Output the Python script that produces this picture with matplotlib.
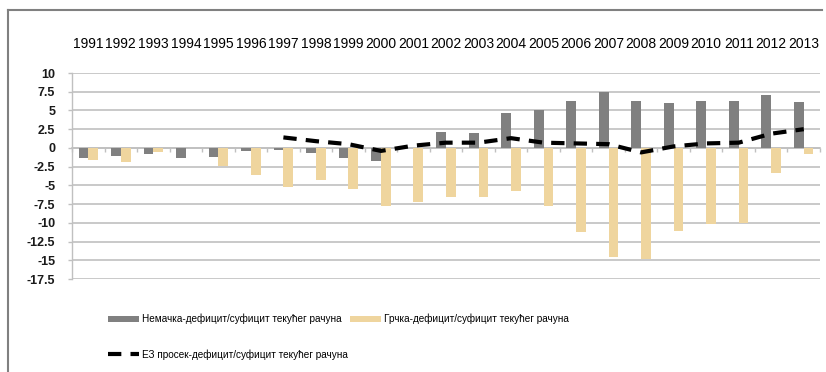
import numpy as np
import matplotlib.pyplot as plt
from matplotlib.lines import Line2D

plt.rcParams['font.family'] = ['Liberation Sans', 'DejaVu Sans']

years = [str(y) for y in range(1991, 2014)]
germany = [-1.3, -1.1, -0.8, -1.3, -1.2, -0.4, -0.3, -0.7, -1.3, -1.7, 0.0, 2.1,
           2.0, 4.7, 5.1, 6.3, 7.5, 6.2, 6.0, 6.3, 6.2, 7.0, 6.1]
greece = [-1.6, -1.9, -0.6, 0.0, -2.4, -3.6, -5.2, -4.3, -5.5, -7.8, -7.2, -6.5,
          -6.5, -5.7, -7.7, -11.2, -14.6, -14.8, -11.1, -10.1, -10.0, -3.4, -0.8]
eu_avg = [np.nan] * 6 + [1.4, 0.9, 0.5, -0.4, 0.3, 0.7, 0.7, 1.3, 0.7, 0.6,
                         0.5, -0.6, 0.2, 0.6, 0.7, 1.9, 2.5]
yticks = np.arange(-17.5, 10.1, 2.5)

lbl_de = 'Немачка-дефицит/суфицит текућег рачуна'
lbl_gr = 'Грчка-дефицит/суфицит текућег рачуна'
lbl_eu = 'ЕЗ просек-дефицит/суфицит текућег рачуна'

W, H = 826, 372
fig = plt.figure(figsize=(W / 100, H / 100), dpi=100)
ax = fig.add_axes([72 / W, (H - 279) / H, (820 - 72) / W, (279 - 73) / H])

x = np.arange(len(years))
bw = 0.3
b1 = ax.bar(x - bw / 2, germany, bw, color='#808080', zorder=3)
b2 = ax.bar(x + bw / 2, greece, bw, color='#EFD59E', zorder=3)
l1, = ax.plot(x, eu_avg, color='black', lw=3, dashes=(3.2, 2.2), zorder=4)

ax.set_xlim(-0.5, len(years) - 0.5)
ax.set_ylim(-17.5, 10)
ax.set_yticks(yticks)
ax.set_yticklabels(['%g' % v for v in yticks], fontsize=9, fontweight='bold',
                   color='#1a1a1a')
ax.yaxis.grid(True, color='#C0C0C0', lw=1.2, zorder=0)
ax.tick_params(axis='y', length=3, color='#C0C0C0', width=1.0, pad=9)

# year labels sit above the plot, tick marks sit on the zero line
ax.set_xticks(x)
ax.set_xticklabels(years, fontsize=9, fontweight='bold', color='#1a1a1a')
ax.tick_params(axis='x', which='major', length=0, labelbottom=False,
               labeltop=True, pad=16)
ax.set_xticks(np.arange(-0.5, len(years)), minor=True)
ax.tick_params(axis='x', which='minor', length=3, color='#C0C0C0', width=1.0,
               direction='out', top=False, bottom=True)
ax.spines['bottom'].set_position(('data', 0))
ax.spines['bottom'].set_color('#C0C0C0')
ax.spines['bottom'].set_linewidth(1.2)
ax.spines['left'].set_color('#C0C0C0')
ax.spines['left'].set_linewidth(1.0)
ax.spines['top'].set_visible(False)
ax.spines['right'].set_visible(False)

fig.legend([b1, l1, b2], [lbl_de, lbl_eu, lbl_gr], ncol=2, frameon=False,
           loc='upper left', bbox_to_anchor=(99 / W, 1 - 305 / H),
           fontsize=7.2, handlelength=3.1, handletextpad=0.3,
           columnspacing=0.2, labelspacing=2.45, handleheight=0.5)

# outer chart border (top and left edges)
fig.add_artist(Line2D([8 / W, 822 / W], [1 - 10 / H, 1 - 10 / H],
                      color='#808080', lw=1.5))
fig.add_artist(Line2D([8 / W, 8 / W], [0, 1 - 10 / H], color='#808080', lw=1.5))

fig.savefig('out.png', dpi=100)
